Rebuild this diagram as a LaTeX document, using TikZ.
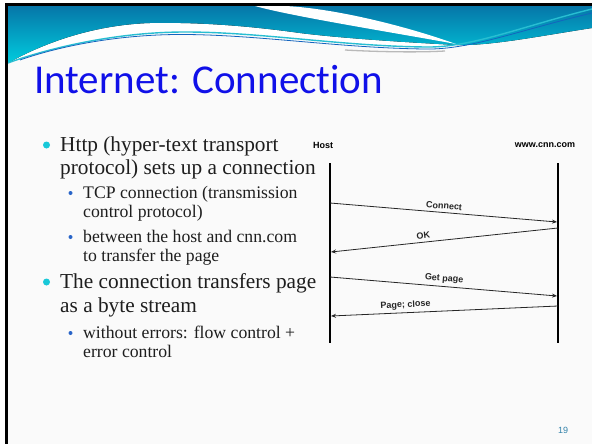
\documentclass[tikz,border=0pt]{standalone}
\usepackage{fontspec}
\setmainfont{Liberation Serif}
\newfontfamily\titlefont{Carlito}[Ligatures=NoCommon]
\newfontfamily\labelfont{Liberation Sans}
\usetikzlibrary{arrows.meta}

\definecolor{slidebg}{RGB}{250,250,250}
\definecolor{tealtop}{RGB}{6,118,168}
\definecolor{tealbot}{RGB}{0,204,222}
\definecolor{swooshcyan}{RGB}{40,190,210}
\definecolor{swooshblue}{RGB}{20,100,190}
\definecolor{titleblue}{RGB}{16,16,232}
\definecolor{bulletcyan}{RGB}{24,200,216}
\definecolor{bulletblue}{RGB}{40,100,200}
\definecolor{bodytext}{RGB}{30,30,30}
\definecolor{pagenum}{RGB}{50,130,170}

\begin{document}
\begin{tikzpicture}[x=1pt,y=-1pt,
  maintext/.style={anchor=base west, inner sep=0pt, font=\fontsize{21.3}{24}\selectfont, text=bodytext},
  subtext/.style={anchor=base west, inner sep=0pt, font=\fontsize{17.7}{20}\selectfont, text=bodytext},
  maindot/.style={circle, fill=bulletcyan, inner sep=0pt, minimum size=7pt},
  subdot/.style={circle, fill=bulletblue, inner sep=0pt, minimum size=4pt},
  lifeline/.style={line width=1.8pt, black},
  msg/.style={line width=0.8pt, black!85, -{Stealth[length=5pt,width=4pt]}},
  msglabel/.style={font=\labelfont\bfseries\fontsize{9}{10}\selectfont, sloped, above=2pt, inner sep=1pt},
  endlabel/.style={font=\labelfont\bfseries\fontsize{9}{10}\selectfont, inner sep=0pt},
]
\useasboundingbox (0,0) rectangle (592,444);
\fill[white] (0,0) rectangle (592,444);
\fill[slidebg] (8,6) rectangle (592,444);

% header: white swoosh under the teal band
\fill[white] (8,6) -- (592,6) -- (592,10)
  .. controls (520,28) and (470,49) .. (425,48)
  .. controls (340,47) and (260,33) .. (185,33)
  .. controls (110,33) and (40,52) .. (8,64) -- cycle;
% teal band
\fill[top color=tealtop, bottom color=tealbot] (8,6) -- (592,6) -- (592,28)
  .. controls (540,36) and (490,46) .. (457,45)
  .. controls (400,42) and (340,38) .. (300,33)
  .. controls (250,26) and (200,22) .. (150,23)
  .. controls (90,25) and (40,45) .. (8,63) -- cycle;
% white stripe through the band
\fill[white] (255,6) .. controls (290,16) and (390,32) .. (456,44)
  .. controls (400,24) and (330,8) .. (285,6) -- cycle;
% thin swoosh lines
\draw[swooshcyan, line width=1.4pt] (8,63)
  .. controls (40,51) and (110,32) .. (185,32)
  .. controls (260,32) and (340,46) .. (425,47)
  .. controls (470,48) and (520,27) .. (592,9);
\draw[swooshblue, line width=0.8pt] (20,60)
  .. controls (60,46) and (120,34) .. (185,34.5)
  .. controls (260,35) and (340,48) .. (425,49)
  .. controls (470,50) and (520,30) .. (592,13);
\draw[gray!55, line width=1.3pt] (345,50) .. controls (380,52) and (420,52.5) .. (445,51);

% slide frame
\fill[black] (5,3) rectangle (592,6);
\fill[black] (5,3) rectangle (8,444);

% title
\node[anchor=base west, inner sep=0pt, text=titleblue, font=\titlefont\fontsize{41}{48}\selectfont] (title) at (34,93) {Internet: Connection};

% bullet list
\node[maindot] (d1) at (46.5,145) {};
\node[maintext] (l1a) at (60,151) {Http (hyper-text transport};
\node[maintext] (l1b) at (60,174) {protocol) sets up a connection};
\node[subdot] (d2) at (70.5,193) {};
\node[subtext] (l2a) at (83,198) {TCP connection (transmission};
\node[subtext] (l2b) at (83,217) {control protocol)};
\node[subdot] (d3) at (70.5,237) {};
\node[subtext] (l3a) at (83,242) {between the host and cnn.com};
\node[subtext] (l3b) at (83,261) {to transfer the page};
\node[maindot] (d4) at (46.5,282) {};
\node[maintext] (l4a) at (60,288) {The connection transfers page};
\node[maintext] (l4b) at (60,312) {as a byte stream};
\node[subdot] (d5) at (70.5,333) {};
\node[subtext] (l5a) at (83,338) {without errors: flow control +};
\node[subtext] (l5b) at (83,357) {error control};

% sequence diagram
\node[endlabel] (host) at (323,145) {Host};
\node[endlabel] (cnn) at (545,145) {www.cnn.com};
\coordinate (hostTop) at (330,163);
\coordinate (hostBot) at (330,343);
\coordinate (cnnTop) at (558,163);
\coordinate (cnnBot) at (558,343);
\draw[lifeline] (hostTop) -- (hostBot);
\draw[lifeline] (cnnTop) -- (cnnBot);

\coordinate (m1s) at (330,203);
\coordinate (m1e) at (557,222);
\coordinate (m2s) at (558,228);
\coordinate (m2e) at (331,252);
\coordinate (m3s) at (330,277);
\coordinate (m3e) at (557,296);
\coordinate (m4s) at (558,306);
\coordinate (m4e) at (331,316);
\draw[msg] (m1s) -- node[msglabel, pos=0.5] (lab1) {Connect} (m1e);
\draw[msg] (m2s) -- node[msglabel, pos=0.59] (lab2) {OK} (m2e);
\draw[msg] (m3s) -- node[msglabel, pos=0.5] (lab3) {Get page} (m3e);
\draw[msg] (m4s) -- node[msglabel, pos=0.67] (lab4) {Page; close} (m4e);

% page number
\node[text=pagenum, font=\labelfont\fontsize{9}{10}\selectfont, inner sep=0pt] (pnum) at (563,430) {19};
\end{tikzpicture}
\end{document}
